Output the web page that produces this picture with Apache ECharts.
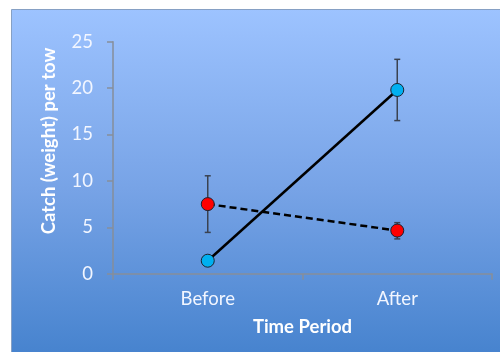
<!DOCTYPE html>
<html><head><meta charset="utf-8">
<script src="https://cdn.jsdelivr.net/npm/echarts@6/dist/echarts.min.js"></script>
<style>html,body{margin:0;padding:0;background:#fff}#c{width:500px;height:352px}</style>
</head><body><div id="c"></div>
<script>
var categories = ['Before', 'After'];
var blueMean = [1.4, 19.8];
var blueLow = [1.4, 16.5];
var blueHigh = [1.4, 23.1];
var redMean = [7.5, 4.65];
var redLow = [4.45, 3.75];
var redHigh = [10.55, 5.5];
var yTicks = [0, 5, 10, 15, 20, 25];

var chart = echarts.init(document.getElementById('c'), null, {renderer: 'canvas'});
var FONT = 'Lato, "Open Sans", sans-serif';

function errData(low, high) {
  return categories.map(function (c, i) { return [i, low[i], high[i]]; });
}
function errRender(params, api) {
  var x = api.value(0);
  var lo = api.coord([x, api.value(1)]);
  var hi = api.coord([x, api.value(2)]);
  var w = 3;
  var st = {stroke: '#3a4250', lineWidth: 1.5};
  return {type: 'group', children: [
    {type: 'line', shape: {x1: lo[0], y1: lo[1], x2: hi[0], y2: hi[1]}, style: st},
    {type: 'line', shape: {x1: lo[0] - w, y1: lo[1], x2: lo[0] + w, y2: lo[1]}, style: st},
    {type: 'line', shape: {x1: hi[0] - w, y1: hi[1], x2: hi[0] + w, y2: hi[1]}, style: st}
  ]};
}

chart.setOption({
  animation: false,
  graphic: [
    {type: 'rect', z: -10, silent: true, shape: {x: 11.5, y: 9.5, width: 520, height: 360},
     style: {fill: new echarts.graphic.LinearGradient(0, 0, 0, 1, [
       {offset: 0, color: '#9dc3ff'}, {offset: 0.5, color: '#77a3e6'}, {offset: 1, color: '#4280cc'}]),
       stroke: '#86a0c4', lineWidth: 1}},
    {type: 'text', z: 10, x: 49, y: 141, rotation: Math.PI / 2,
     style: {text: 'Catch (weight) per tow', fill: '#ffffff', font: 'bold 18.5px ' + FONT,
       align: 'center', verticalAlign: 'middle'}}
  ],
  grid: {left: 113, right: 8, top: 41.7, bottom: 78.3, containLabel: false},
  xAxis: {
    type: 'category', data: categories, boundaryGap: true,
    axisLine: {lineStyle: {color: '#868e9a', width: 1.5}},
    axisTick: {show: true, length: 6, lineStyle: {color: '#868e9a', width: 1.5}},
    axisLabel: {color: '#f2f6ff', fontSize: 18.5, fontFamily: FONT, margin: 16},
    name: 'Time Period', nameLocation: 'middle', nameGap: 44,
    nameTextStyle: {color: '#ffffff', fontSize: 18.5, fontWeight: 'bold', fontFamily: FONT},
    splitLine: {show: false}
  },
  yAxis: {
    type: 'value', min: 0, max: 25, interval: 5,
    axisLine: {show: true, lineStyle: {color: '#868e9a', width: 1.5}},
    axisTick: {show: true, inside: false, length: 6, lineStyle: {color: '#868e9a', width: 1.5}},
    axisLabel: {color: '#f2f6ff', fontSize: 18.5, fontFamily: FONT, margin: 20,
      formatter: function (v) { return yTicks.indexOf(v) >= 0 ? String(v) : ''; }},
    splitLine: {show: false}
  },
  series: [
    {type: 'custom', renderItem: errRender, data: errData(blueLow, blueHigh), z: 2, encode: {x: 0, y: [1, 2]}},
    {type: 'custom', renderItem: errRender, data: errData(redLow, redHigh), z: 2, encode: {x: 0, y: [1, 2]}},
    {type: 'line', data: blueMean, z: 3, symbol: 'circle', symbolSize: 13,
     lineStyle: {color: '#000', width: 2.5},
     itemStyle: {color: '#00b0f0', borderColor: '#1a2330', borderWidth: 1}},
    {type: 'line', data: redMean, z: 3, symbol: 'circle', symbolSize: 13,
     lineStyle: {color: '#000', width: 2.5, type: [7, 4]},
     itemStyle: {color: '#ff0000', borderColor: '#1a2330', borderWidth: 1}}
  ]
});
</script></body></html>
